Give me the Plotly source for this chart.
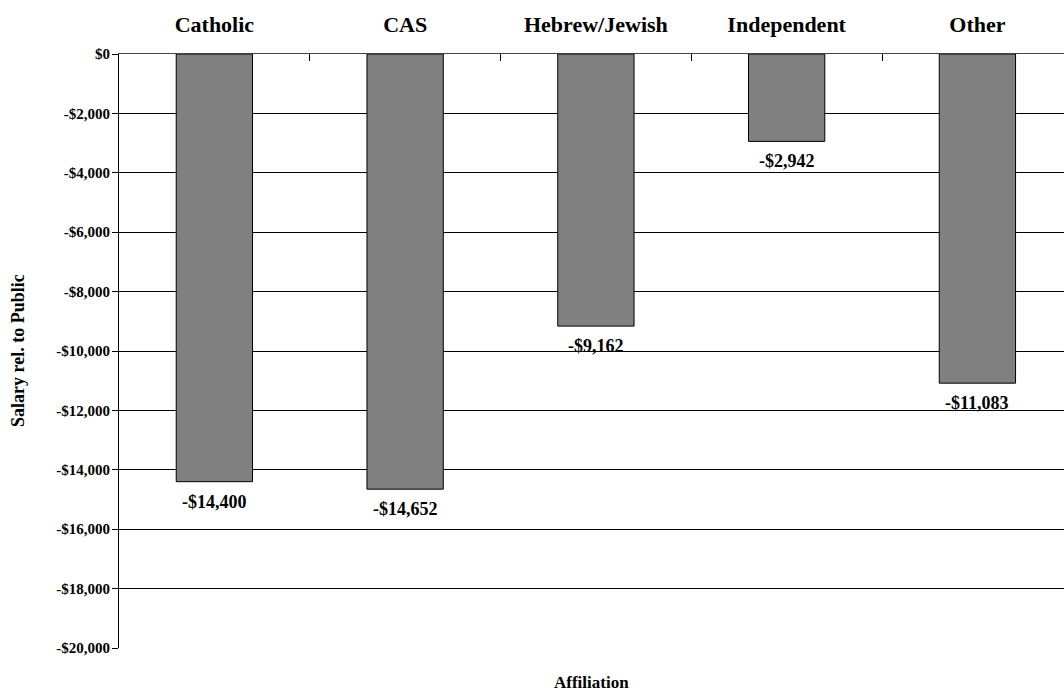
import plotly.graph_objects as go

categories = ["Catholic", "CAS", "Hebrew/Jewish", "Independent", "Other"]
values = [-14400, -14652, -9162, -2942, -11083]
labels = ["-$14,400", "-$14,652", "-$9,162", "-$2,942", "-$11,083"]
ytick_vals = list(range(0, -20001, -2000))
ytick_text = ["$0"] + [f"-${abs(v):,}" for v in ytick_vals[1:]]

FONT = "Liberation Serif, Times New Roman, serif"
W, H = 1064, 691
ML, MR, MT, MB = 119, 0, 54, 43
PW, PH = W - ML - MR, H - MT - MB

fig = go.Figure()
fig.add_trace(go.Bar(
    x=categories, y=values, width=0.4,
    marker=dict(color="#808080", line=dict(color="black", width=1)),
    hoverinfo="skip",
))
for c, v, t in zip(categories, values, labels):
    fig.add_annotation(x=c, y=v, text=f"<b>{t}</b>", showarrow=False,
                       yanchor="top", yshift=-8,
                       font=dict(family=FONT, size=18, color="black"))

fig.add_annotation(x=0.5, y=-35 / PH, xref="paper", yref="paper",
                   xanchor="center", yanchor="middle",
                   text="<b>Affiliation</b>", showarrow=False,
                   font=dict(family=FONT, size=17, color="black"))
fig.add_annotation(x=(18 - ML) / PW, y=0.5, xref="paper", yref="paper",
                   xanchor="center", yanchor="middle", textangle=-90,
                   text="<b>Salary rel. to Public</b>", showarrow=False,
                   font=dict(family=FONT, size=18, color="black"))

fig.update_layout(
    width=W, height=H,
    margin=dict(l=ML, r=MR, t=MT, b=MB, autoexpand=False),
    paper_bgcolor="white", plot_bgcolor="white",
    showlegend=False,
    font=dict(family=FONT, color="black"),
)
fig.update_xaxes(
    type="category", side="top", range=[-0.5, 4.454], automargin=False,
    tickson="boundaries", ticks="inside", ticklen=7, tickcolor="black",
    ticklabelstandoff=12,
    showline=True, linecolor="#444444", linewidth=1,
    showgrid=False,
    tickfont=dict(family=FONT, size=22, color="black", weight="bold"),
)
fig.update_yaxes(
    range=[-20000, 0], tickvals=ytick_vals, ticktext=ytick_text, automargin=False,
    ticks="outside", ticklen=6, tickcolor="black",
    ticklabelstandoff=-1,
    showline=True, linecolor="black", linewidth=1,
    showgrid=True, gridcolor="black", gridwidth=1,
    zeroline=False,
    tickfont=dict(family=FONT, size=15, color="black", weight="bold"),
)
fig.write_html("out.html", config={"displayModeBar": False},
               post_script="document.body.style.margin='0';")
